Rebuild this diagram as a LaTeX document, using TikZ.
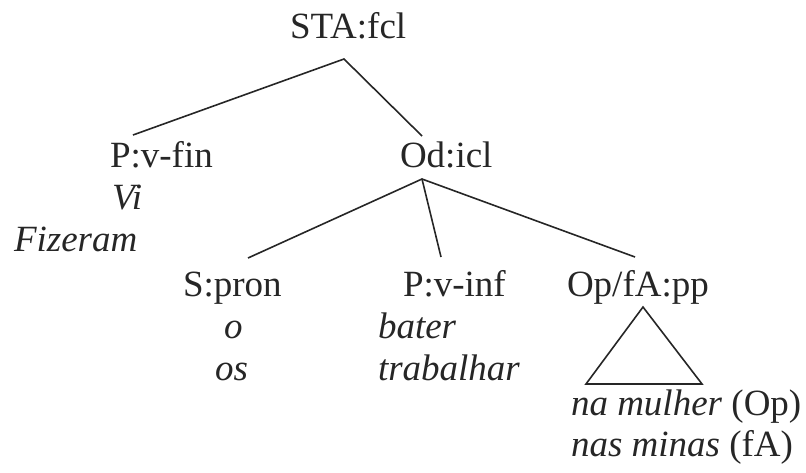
\documentclass[tikz,border=0pt]{standalone}
\usepackage{fontspec}
\setmainfont{Liberation Serif}
\begin{document}
\begin{tikzpicture}[x=1pt,y=-1pt,
  lbl/.style={anchor=base west,inner sep=0pt,outer sep=0pt,text=black!85,font=\fontsize{37}{42}\selectfont},
  wrd/.style={lbl,font=\fontsize{37}{42}\selectfont\itshape},
  edge/.style={draw=black!85,line width=1.6pt}]
\useasboundingbox (0,0) rectangle (806,472);
% labels
\node[lbl] (sta) at (290,38) {STA:fcl};
\node[lbl] (pvfin) at (110,167) {P:v-fin};
\node[wrd] (vi) at (112,209) {Vi};
\node[wrd] (fizeram) at (14,251) {Fizeram};
\node[lbl] (odicl) at (400,167) {Od:icl};
\node[lbl] (spron) at (183,296) {S:pron};
\node[wrd] (o) at (224,338) {o};
\node[wrd] (os) at (215,380) {os};
\node[lbl] (pvinf) at (403,296) {P:v-inf};
\node[wrd] (bater) at (378,338) {bater};
\node[wrd] (trabalhar) at (378,380) {trabalhar};
\node[lbl] (oppp) at (567,296) {Op/fA:pp};
\node[lbl] (namulher) at (571,415) {\textit{na mulher} (Op)};
\node[lbl] (nasminas) at (571,456) {\textit{nas minas} (fA)};
% connector end points
\coordinate (staB) at (344,59);
\coordinate (pvfinT) at (133,135);
\coordinate (odiclT) at (422,136);
\coordinate (odiclB) at (422,179);
\coordinate (spronT) at (248,258);
\coordinate (pvinfT) at (441,257);
\coordinate (opppT) at (635,257);
\coordinate (triA) at (643,307);
\coordinate (triL) at (586,384);
\coordinate (triR) at (702,384);
% connectors
\draw[edge] (pvfinT) -- (staB) -- (odiclT);
\draw[edge] (spronT) -- (odiclB) -- (opppT);
\draw[edge] (odiclB) -- (pvinfT);
\draw[edge,line join=miter] (triA) -- (triL) -- (triR) -- cycle;
\end{tikzpicture}
\end{document}
